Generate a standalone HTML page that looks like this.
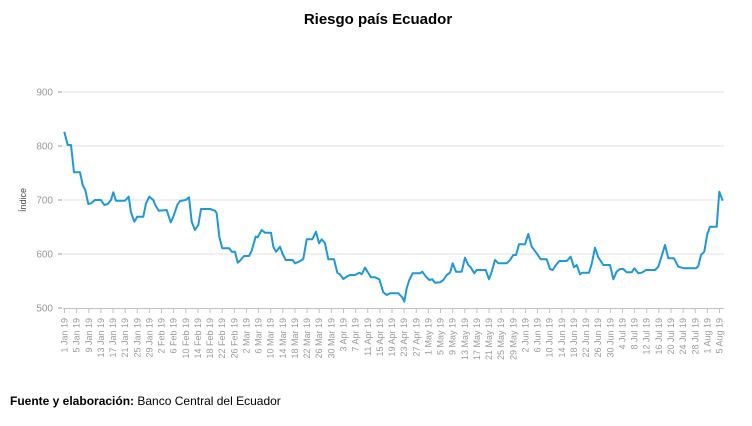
<!DOCTYPE html>
<html><head><meta charset="utf-8"><style>
body{margin:0;background:#fff;width:752px;height:421px;overflow:hidden;font-family:"Liberation Sans",sans-serif}
</style></head><body>
<svg width="752" height="421" xmlns="http://www.w3.org/2000/svg" font-family="Liberation Sans, sans-serif">
<text x="378" y="24" text-anchor="middle" font-size="15" font-weight="bold" fill="#000">Riesgo país Ecuador</text>
<g stroke="#ebebeb" stroke-width="1.5">
<line x1="63" y1="92" x2="724" y2="92"/><line x1="63" y1="146" x2="724" y2="146"/><line x1="63" y1="200" x2="724" y2="200"/><line x1="63" y1="254" x2="724" y2="254"/>
</g>
<line x1="63" y1="308.5" x2="724" y2="308.5" stroke="#c0c0c0" stroke-width="1"/>
<g stroke="#999" stroke-width="1"><line x1="58" y1="92" x2="62" y2="92"/><line x1="58" y1="146" x2="62" y2="146"/><line x1="58" y1="200" x2="62" y2="200"/><line x1="58" y1="254" x2="62" y2="254"/><line x1="58" y1="308" x2="62" y2="308"/></g>
<g font-size="10" fill="#999" text-anchor="end">
<text x="53" y="95.5">900</text><text x="53" y="149.5">800</text><text x="53" y="203.5">700</text><text x="53" y="257.5">600</text><text x="53" y="311.5">500</text>
</g>
<text transform="translate(26,200) rotate(-90)" text-anchor="middle" font-size="9" fill="#444">Índice</text>
<polyline fill="none" stroke="#1f97d8" stroke-width="2" stroke-linejoin="round" points="64.3,131.7 67.7,145 71,145 74,172.3 80,172.3 82.7,185 85.3,190 88.3,204 91,203.3 95,200 101,200 104.3,205 107.7,204 111,200 113.3,192.3 116,200.7 125,200.7 128.7,196.7 131,212.3 134.3,221.7 137.3,216.7 143.3,216.7 146,203.3 149.3,196.7 153.3,200 155.3,205 158.7,210.7 166.7,210 170.7,222.3 173.3,216.7 177.3,205 180,201 185.7,200 189,197.3 191.7,221.7 195,230 198.3,225 201,209 210,209 215,210.7 216.7,213.3 219.3,236.7 222.3,248.3 229.3,248.3 231.7,251.7 235,251.7 237.7,262.7 240.7,260 244,256 249,256 251.7,250.7 255.7,236.7 257.7,237.3 261.7,230 265,232.7 271,232.7 273.3,246.7 276,251.7 280,246.7 282.7,254 285.7,260 292.7,260 295,263.3 299,261.7 303.3,259 306.7,239.3 312.3,239.3 316,231.7 319,243.3 321.7,239.3 325,243.3 328.3,259.3 334,259.3 337.3,272.7 340,274.3 343.3,279 346.7,276.7 350,275 355,275 359.3,272.7 361.7,274.3 365,267.7 371,277.3 375,277.3 379.3,279.3 383.3,292.3 386.7,295 390,293.3 398.3,293.3 402.3,297.3 404.3,301.7 406.7,288.3 409.3,280 412.7,273.3 420,273.3 422.3,271.7 426,276.7 429.3,280 432.3,279.3 435,282.7 440,282.3 443.3,280 446.7,275 450,272.7 452.7,263.3 456,271.7 461.7,271.7 465,257.7 468.3,265 470.7,267.3 474.3,273.3 476.7,270 485.7,270 489,279.3 491.7,271.7 495,260 498.3,263.3 506.7,263.3 510,260 513.3,255 516,255 519,244.3 525,244.3 528.3,234 531.7,246.7 536.7,253.3 540.7,259.3 546.7,259.3 550,269 552.7,270 556,265 559.3,261 566.7,261 570.7,256.7 574,267.3 576.7,265 580,274.3 582.3,272.7 589,272.7 591.7,264 595,247.7 598.3,257.3 603.3,265 610,265 613.3,279.3 616.7,271.7 620,269 623.3,269 626.7,272.3 631.7,272.3 634.3,268.3 638.3,273.3 641.7,272.7 646,270 655,270 658.3,266.7 661.7,256 665,245 668.3,258.3 674,258.3 678.3,266.7 684.3,268.3 696,268.3 698.3,266 701,255 704.3,251.7 707.3,234 710,226.7 716.7,226.7 719.3,191.7 722.7,200.7"/>
<g id="ticks" stroke="#c0c0c0" stroke-width="1"></g>
<g id="labels" font-size="9" fill="#999" text-anchor="end"></g>
<text x="10" y="405" font-size="12" fill="#000"><tspan font-weight="bold">Fuente y elaboración:</tspan> Banco Central del Ecuador</text>
<script>
(function(){
var ns="http://www.w3.org/2000/svg",t=document.getElementById("ticks"),l=document.getElementById("labels");
var m=["Jan","Feb","Mar","Apr","May","Jun","Jul","Aug"],dim=[31,28,31,30,31,30,31,31];
var mo=0,d=1;
for(var i=0;i<55;i++){
 var x=64.5+i*12.13;
 var ln=document.createElementNS(ns,"line");ln.setAttribute("x1",x);ln.setAttribute("x2",x);ln.setAttribute("y1",309);ln.setAttribute("y2",313);t.appendChild(ln);
 var tx=document.createElementNS(ns,"text");tx.setAttribute("transform","translate("+(x+3)+",318) rotate(-90)");tx.textContent=d+" "+m[mo]+" 19";l.appendChild(tx);
 d+=4;while(d>dim[mo]){d-=dim[mo];mo++;}
}
})();
</script>
</svg>
</body></html>
